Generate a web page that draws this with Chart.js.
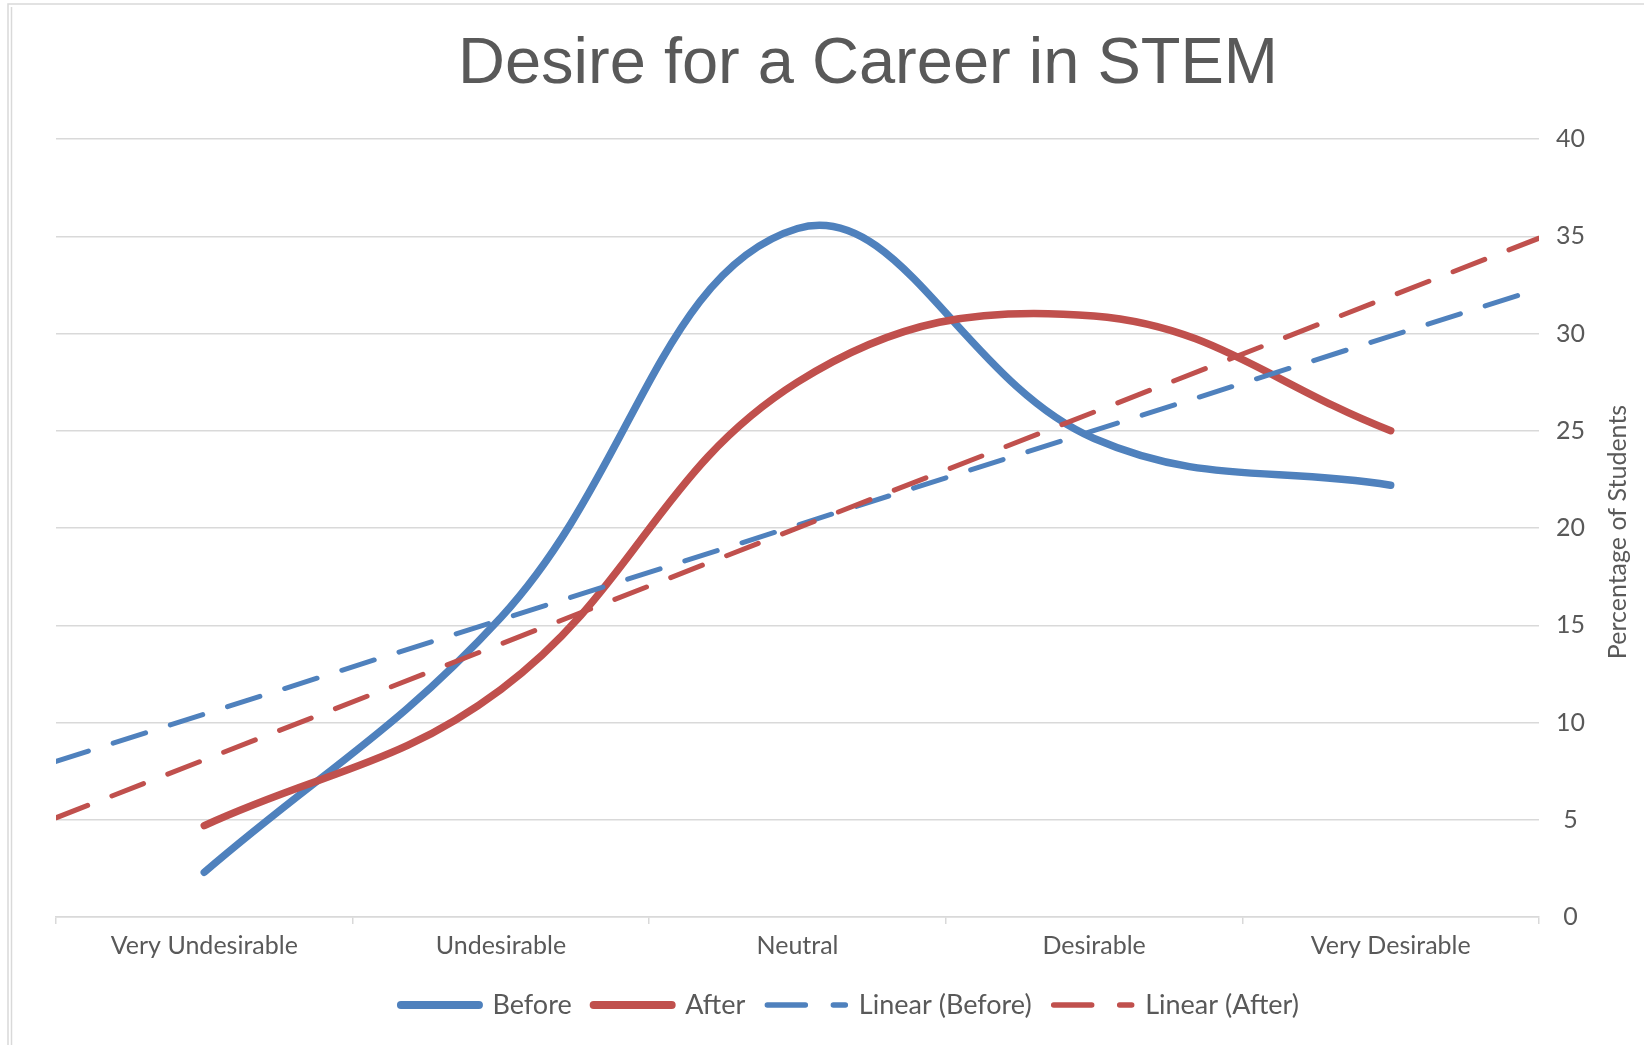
<!DOCTYPE html>
<html>
<head>
<meta charset="utf-8">
<title>Desire for a Career in STEM</title>
<script src="https://cdn.jsdelivr.net/npm/chart.js@4.4.1/dist/chart.umd.min.js"></script>
<style>
  html, body { margin: 0; padding: 0; background: #ffffff; }
  #wrap { position: relative; width: 1644px; height: 1045px; }
</style>
</head>
<body>
<div id="wrap"><canvas id="myChart"></canvas></div>
<script>
// Data
const categories = ["Very Undesirable", "Undesirable", "Neutral", "Desirable", "Very Desirable"];
const beforeValues = [2.3, 15.4, 35.4, 24.6, 22.2];
const afterValues = [4.7, 11.7, 27.5, 30.9, 25.0];

// trendlines run from the left plot edge to the right plot edge
const trendEdges = [-0.5, 4.5];
const beforeTrend = [8.0, 32.3];
const afterTrend = [5.1, 34.9];

const yTicks = [0, 5, 10, 15, 20, 25, 30, 35, 40];

const chartTitle = "Desire for a Career in STEM";
const yAxisTitle = "Percentage of Students";

const blue = "#4F81BD";
const red = "#C0504D";
const textColor = "#595959";
const gridColor = "#d9d9d9";
const labelFont = "Lato, 'Open Sans', sans-serif";

// Title + rotated axis title + frame, drawn on the canvas
const extrasPlugin = {
  id: "extras",
  afterDraw(chart) {
    const ctx = chart.ctx;
    ctx.save();
    ctx.strokeStyle = gridColor;
    ctx.lineWidth = 1.5;
    ctx.beginPath();
    ctx.moveTo(8, 1045);
    ctx.lineTo(8, 4);
    ctx.lineTo(1644, 4);
    ctx.moveTo(11.5, 1045);
    ctx.lineTo(11.5, 7);
    ctx.stroke();

    ctx.fillStyle = textColor;
    ctx.font = "65px 'Liberation Sans', Arial, sans-serif";
    ctx.textAlign = "center";
    ctx.textBaseline = "alphabetic";
    ctx.fillText(chartTitle, 868, 83);

    ctx.font = "25px " + labelFont;
    ctx.translate(1618, (chart.chartArea.top + chart.chartArea.bottom) / 2 + 4);
    ctx.rotate(-Math.PI / 2);
    ctx.textBaseline = "middle";
    ctx.fillText(yAxisTitle, 0, 0);
    ctx.restore();
  },
};

const data = {
  labels: categories,
  datasets: [
    {
      label: "Before",
      data: beforeValues,
      xAxisID: "x",
      borderColor: blue,
      backgroundColor: blue,
      borderWidth: 7.5,
      borderCapStyle: "round",
      tension: 0.4,
      pointRadius: 0,
      order: 4,
    },
    {
      label: "After",
      data: afterValues,
      xAxisID: "x",
      borderColor: red,
      backgroundColor: red,
      borderWidth: 7.5,
      borderCapStyle: "round",
      tension: 0.4,
      pointRadius: 0,
      order: 3,
    },
    {
      label: "Linear (Before)",
      data: trendEdges.map((x, i) => ({ x: x, y: beforeTrend[i] })),
      xAxisID: "xt",
      borderColor: blue,
      backgroundColor: blue,
      borderWidth: 5,
      borderDash: [34, 26],
      borderCapStyle: "round",
      pointRadius: 0,
      order: 2,
    },
    {
      label: "Linear (After)",
      data: trendEdges.map((x, i) => ({ x: x, y: afterTrend[i] })),
      xAxisID: "xt",
      borderColor: red,
      backgroundColor: red,
      borderWidth: 5,
      borderDash: [34, 26],
      borderCapStyle: "round",
      pointRadius: 0,
      order: 1,
    },
  ],
};

const config = {
  type: "line",
  data,
  options: {
    responsive: true,
    maintainAspectRatio: false,
    animation: false,
    layout: {
      padding: { left: 56, top: 139, right: 0, bottom: 16.5 },
    },
    plugins: {
      title: { display: false },
      tooltip: { enabled: false },
      legend: {
        position: "bottom",
        labels: {
          usePointStyle: true,
          pointStyle: "line",
          pointStyleWidth: 78,
          padding: 22,
          color: textColor,
          font: { family: labelFont, size: 27 },
          sort: (a, b) => a.datasetIndex - b.datasetIndex,
          generateLabels(chart) {
            const items = Chart.defaults.plugins.legend.labels.generateLabels(chart);
            items.forEach((item) => {
              const ds = chart.data.datasets[item.datasetIndex];
              item.strokeStyle = ds.borderColor;
              item.lineDash = ds.borderDash ? [38, 28] : [];
              item.lineWidth = ds.borderDash ? 5.5 : 8;
              item.lineCap = "round";
            });
            return items;
          },
        },
      },
    },
    scales: {
      x: {
        type: "category",
        offset: true,
        grid: {
          offset: true,
          drawOnChartArea: false,
          drawTicks: true,
          tickLength: 7,
          color: gridColor,
          lineWidth: 1.5,
        },
        border: { color: gridColor, width: 1.5 },
        ticks: {
          color: textColor,
          font: { family: labelFont, size: 25 },
          padding: 7,
          maxRotation: 0,
          autoSkip: false,
        },
        afterFit(scale) {
          scale.height = 52.5;
        },
      },
      xt: {
        type: "linear",
        display: false,
        min: -0.5,
        max: 4.5,
      },
      y: {
        position: "right",
        min: yTicks[0],
        max: yTicks[yTicks.length - 1],
        afterBuildTicks(scale) {
          scale.ticks = yTicks.map((v) => ({ value: v }));
        },
        grid: { color: gridColor, lineWidth: 1.5, drawTicks: false },
        border: { display: false },
        ticks: {
          color: textColor,
          font: { family: labelFont, size: 25 },
          padding: 17,
          crossAlign: "center",
        },
        afterFit(scale) {
          scale.width = 105;
        },
      },
    },
  },
  plugins: [extrasPlugin],
};

const myChart = new Chart(document.getElementById("myChart"), config);
</script>
</body>
</html>
